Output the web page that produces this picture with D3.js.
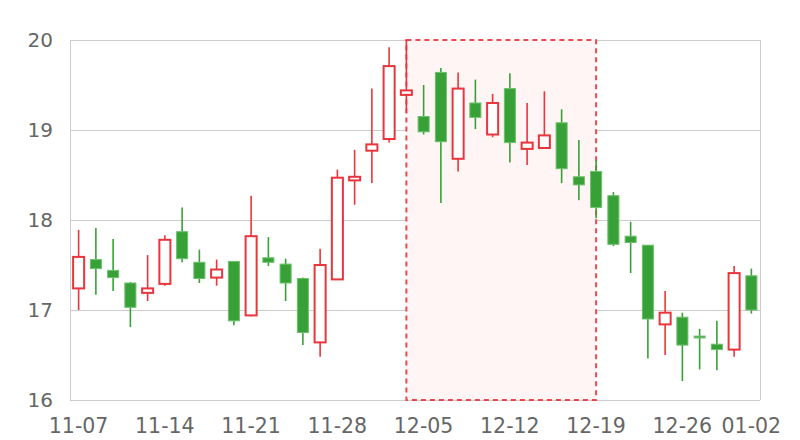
<!DOCTYPE html>
<html><head><meta charset="utf-8">
<script src="https://cdn.jsdelivr.net/npm/d3@7"></script>
<style>body{margin:0;background:#fff}svg{display:block}</style>
</head><body>
<svg id="c" width="800" height="440"></svg>
<script>
const dates = ["11-07","11-08","11-11","11-12","11-13","11-14","11-15","11-18","11-19","11-20",
  "11-21","11-22","11-25","11-26","11-27","11-28","11-29","12-02","12-03","12-04",
  "12-05","12-06","12-09","12-10","12-11","12-12","12-13","12-16","12-17","12-18",
  "12-19","12-20","12-23","12-24","12-25","12-26","12-27","12-30","12-31","01-02"];
const openV  = [17.24,17.56,17.44,17.30,17.19,17.29,17.87,17.53,17.36,17.54,
  16.94,17.58,17.51,17.35,16.64,17.34,18.44,18.77,18.90,19.39,
  19.15,19.64,18.68,19.30,18.95,19.46,18.79,18.80,19.08,18.48,
  18.54,18.27,17.82,17.72,16.84,16.92,16.71,16.62,16.56,17.38];
const closeV = [17.59,17.46,17.36,17.03,17.24,17.78,17.57,17.35,17.45,16.88,
  17.82,17.53,17.30,16.75,17.50,18.47,18.48,18.84,19.71,19.44,
  18.98,18.87,19.46,19.14,19.30,18.86,18.86,18.94,18.57,18.39,
  18.14,17.73,17.75,16.90,16.97,16.61,16.69,16.56,17.41,17.00];
const lowV   = [17.00,17.17,17.21,16.81,17.10,17.27,17.53,17.30,17.27,16.83,
  16.93,17.49,17.10,16.61,16.48,17.34,18.17,18.41,18.86,19.19,
  18.95,18.19,18.54,19.01,18.92,18.64,18.61,18.94,18.41,18.22,
  18.02,17.71,17.41,16.46,16.50,16.21,16.34,16.33,16.48,16.96];
const highV  = [17.89,17.91,17.79,17.31,17.61,17.83,18.14,17.67,17.56,17.54,
  18.27,17.81,17.57,17.36,17.68,18.56,18.78,19.46,19.92,20.00,
  19.50,19.69,19.64,19.56,19.40,19.63,19.30,19.43,19.23,18.89,
  18.67,18.31,17.98,17.72,17.21,16.97,16.79,16.88,17.49,17.46];
const yTicks = [16,17,18,19,20];
const xTickLabels = ["11-07","11-14","11-21","11-28","12-05","12-12","12-19","12-26","01-02"];
const markFrom = "12-04", markTo = "12-19";

const W = 800, H = 440, m = {l:70, r:40, t:40, b:40};
const upColor = "#e8363c", downColor = "#37a137";
const svg = d3.select("#c");
const x = d3.scaleBand().domain(dates).range([m.l, W - m.r]).paddingInner(0).paddingOuter(0);
const y = d3.scaleLinear().domain([16, 20]).range([H - m.b, m.t]);
const cx = d => x(d) + x.bandwidth()/2;
const font = "'DejaVu Sans', sans-serif";

// grid
svg.append("g").selectAll("line").data(yTicks).join("line")
  .attr("x1", m.l).attr("x2", W - m.r).attr("y1", d => y(d)).attr("y2", d => y(d))
  .attr("stroke", "#cccccc").attr("stroke-width", 1).attr("shape-rendering","crispEdges");
// left and right frame
[m.l, W - m.r].forEach(xx => svg.append("line").attr("x1", xx).attr("x2", xx)
  .attr("y1", y(20)).attr("y2", y(16)).attr("stroke", "#cccccc").attr("shape-rendering","crispEdges"));

// mark area
const mx0 = cx(markFrom), mx1 = cx(markTo);
svg.append("rect").attr("x", mx0).attr("y", y(20)).attr("width", mx1 - mx0).attr("height", y(16) - y(20))
  .attr("fill", "#fff5f5").attr("stroke", "#e8363c").attr("stroke-opacity", 0.9)
  .attr("stroke-width", 2).attr("stroke-dasharray", "5,4");

// y labels
svg.append("g").selectAll("text").data(yTicks).join("text")
  .attr("x", m.l - 17).attr("y", d => y(d)).attr("dy", "0.35em")
  .attr("text-anchor", "end").attr("fill", "#666").attr("font-family", font).attr("font-size", 20)
  .text(d => d);
// x labels
svg.append("g").selectAll("text").data(xTickLabels).join("text")
  .attr("x", d => cx(d)).attr("y", 433)
  .attr("text-anchor", "middle").attr("fill", "#666").attr("font-family", font).attr("font-size", 20.5)
  .text(d => d);

// candles
const data = dates.map((d, i) => ({d, o: openV[i], c: closeV[i], l: lowV[i], h: highV[i]}));
const bw = x.bandwidth() * 0.64;
const g = svg.append("g");
const cand = g.selectAll("g").data(data).join("g");
cand.append("line")
  .attr("x1", d => cx(d.d)).attr("x2", d => cx(d.d))
  .attr("y1", d => y(d.h)).attr("y2", d => y(d.l))
  .attr("stroke", d => d.c >= d.o ? upColor : downColor).attr("stroke-width", 1.6);
cand.append("rect")
  .attr("x", d => cx(d.d) - bw/2).attr("width", bw)
  .attr("y", d => y(Math.max(d.o, d.c))).attr("height", d => Math.max(1, Math.abs(y(d.o) - y(d.c))))
  .attr("fill", d => d.c >= d.o ? "#ffffff" : downColor)
  .attr("stroke", d => d.c >= d.o ? upColor : "#6cc06c")
  .attr("stroke-width", d => d.c >= d.o ? 2 : 1);
</script>
</body></html>
